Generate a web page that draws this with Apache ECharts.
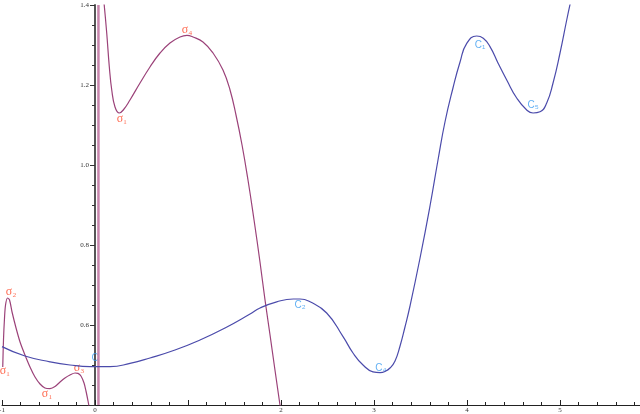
<!DOCTYPE html>
<html>
<head>
<meta charset="utf-8">
<script src="https://cdn.jsdelivr.net/npm/echarts@6/dist/echarts.min.js"></script>
<style>html,body{margin:0;padding:0;background:#fff}#c{width:640px;height:414px}</style>
</head>
<body>
<div id="c"></div>
<script>
// sigma curve, left branch
const sigmaLeftX = [-0.992,-0.984,-0.973,-0.962,-0.941,-0.919,-0.892,-0.849,-0.806,-0.753,-0.699,-0.645,-0.591,-0.538,-0.484,-0.430,-0.376,-0.323,-0.269,-0.215,-0.183,-0.151,-0.118,-0.097,-0.075,-0.065];
const sigmaLeftY = [0.495,0.5625,0.6175,0.65,0.6675,0.6625,0.6325,0.5925,0.5575,0.525,0.495,0.47,0.4525,0.4425,0.441,0.446,0.4575,0.4675,0.475,0.48,0.479,0.4725,0.455,0.435,0.41,0.3975];
// sigma curve, right branch
const sigmaRightX = [0.086,0.097,0.126,0.154,0.180,0.215,0.261,0.304,0.376,0.484,0.591,0.699,0.806,0.914,0.989,1.054,1.161,1.269,1.376,1.452,1.516,1.581,1.645,1.710,1.774,1.828,1.882,1.935,1.989,2.011];
const sigmaRightY = [1.425,1.405,1.33,1.245,1.1875,1.145,1.13,1.1375,1.1625,1.205,1.245,1.28,1.305,1.32,1.324,1.32,1.3075,1.28,1.2375,1.1875,1.125,1.05,0.9625,0.8625,0.7575,0.6625,0.575,0.4875,0.4,0.365];
// vertical asymptote
const asymptoteX = 0.037;
// C curve
const cX = [-1,-0.753,-0.484,-0.269,-0.054,0.161,0.376,0.591,0.860,1.129,1.398,1.667,1.774,1.954,2.132,2.204,2.312,2.491,2.667,2.774,2.882,2.989,3.065,3.118,3.172,3.226,3.280,3.333,3.387,3.495,3.602,3.688,3.763,3.849,3.925,3.997,4.104,4.175,4.247,4.333,4.427,4.534,4.642,4.710,4.785,4.857,4.925,5.0,5.072,5.118];
const cY = [0.546,0.5225,0.508,0.5,0.496,0.496,0.504,0.5175,0.5375,0.5625,0.5925,0.6275,0.6425,0.658,0.665,0.665,0.658,0.63,0.571,0.53,0.5,0.483,0.481,0.4838,0.4925,0.51,0.5475,0.595,0.6475,0.7675,0.8975,1.0125,1.1075,1.1925,1.2575,1.304,1.3225,1.317,1.296,1.255,1.2125,1.1675,1.1375,1.13,1.133,1.155,1.205,1.28,1.3625,1.4125];
// labels
const sigmaLabelNames = ['σ₁','σ₂','σ₁','σ₃','σ₁','σ₄'];
const sigmaLabelX = [-0.968,-0.903,-0.516,-0.172,0.29,0.989];
const sigmaLabelY = [0.485,0.6825,0.4275,0.4925,1.115,1.3375];
const cLabelNames = ['C','C₂','C₄','C₁','C₅'];
const cLabelX = [0.0,2.204,3.075,4.14,4.71];
const cLabelY = [0.5175,0.65,0.4925,1.3,1.15];
// ticks
const xMin = -1, xMax = 5.86, xStep = 1;
const yMin = 0.4, yMax = 1.4, yStep = 0.2;
const xHiddenLabels = [1];
const yHiddenLabels = [0.4];

const zip = (a,b) => a.map((v,i)=>[v,b[i]]);
const chart = echarts.init(document.getElementById('c'));
const magenta = '#9b4279';
const blue = '#4b4bab';
chart.setOption({
  animation:false,
  grid:{left:2,right:0,top:5,bottom:9,containLabel:false,outerBoundsMode:'none'},
  xAxis:{type:'value',min:xMin,max:xMax,interval:xStep,
    axisLine:{onZero:false,lineStyle:{color:'#222',width:1}},
    axisTick:{inside:true,length:5,lineStyle:{color:'#222'}},
    minorTick:{show:true,splitNumber:5,length:3,lineStyle:{color:'#222'}},
    splitLine:{show:false},
    axisLabel:{fontSize:7,color:'#333',margin:2,showMaxLabel:false,fontFamily:'Liberation Serif',
      formatter:v=>xHiddenLabels.includes(Math.round(v))?'':String(Math.round(v))}},
  yAxis:{type:'value',min:yMin,max:yMax,interval:yStep,offset:-93,
    axisLine:{onZero:false,lineStyle:{color:'#555',width:2}},
    axisTick:{inside:false,length:5,lineStyle:{color:'#333'}},
    minorTick:{show:true,splitNumber:4,length:3,lineStyle:{color:'#333'}},
    splitLine:{show:false},
    axisLabel:{fontSize:7,color:'#333',margin:6,fontFamily:'Liberation Serif',
      formatter:v=>yHiddenLabels.some(h=>Math.abs(h-v)<1e-6)?'':v.toFixed(1)}},
  series:[
    {type:'line',smooth:0.3,symbol:'none',data:zip(sigmaLeftX,sigmaLeftY),lineStyle:{color:magenta,width:1.2}},
    {type:'line',smooth:0.45,symbol:'none',data:zip(sigmaRightX,sigmaRightY),lineStyle:{color:magenta,width:1.2}},
    {type:'line',data:[[asymptoteX,yMin],[asymptoteX,yMax]],symbol:'none',lineStyle:{color:'#c886ad',width:2.5}},
    {type:'line',smooth:0.5,symbol:'none',data:zip(cX,cY),lineStyle:{color:blue,width:1.2}},
    {type:'scatter',data:sigmaLabelX.map((x,i)=>({value:[x,sigmaLabelY[i]],name:sigmaLabelNames[i]})),symbolSize:0,
      label:{show:true,position:'inside',formatter:p=>p.name,color:'#ff4a2a',fontSize:12,fontFamily:'Liberation Serif'}},
    {type:'scatter',data:cLabelX.map((x,i)=>({value:[x,cLabelY[i]],name:cLabelNames[i]})),symbolSize:0,
      label:{show:true,position:'inside',formatter:p=>p.name,color:'#3b9cf0',fontSize:10,fontFamily:'Liberation Sans'}}
  ]
});
</script>
</body>
</html>
